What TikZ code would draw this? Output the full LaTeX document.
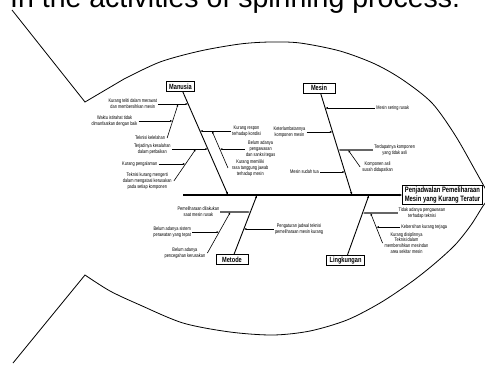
\documentclass[tikz,border=0pt]{standalone}
\usepackage{fontspec}
\setmainfont{Liberation Sans}
\newfontfamily\narrowsf[FakeStretch=0.75]{Liberation Sans}
\usepackage{tikz}
\usetikzlibrary{positioning,calc,arrows.meta}
\tikzstyle{line} = [draw,line width=0.8pt]
\tikzstyle{bone} = [draw,line width=0.9pt,-{Latex[length=3pt,width=2.4pt]}]
\tikzstyle{arrow} = [draw,line width=0.6pt,-{Latex[length=2.6pt,width=2pt]}]
\tikzstyle{subline} = [draw=black!60,line width=1.3pt,-{Latex[length=2.6pt,width=2pt]}]
\tikzstyle{category} = [draw,line width=0.8pt,fill=white,font=\narrowsf\bfseries\fontsize{7.5}{8}\selectfont,minimum height=10pt,inner xsep=3pt,inner ysep=1pt]
\tikzstyle{cause} = [align=center,font=\narrowsf\fontsize{5.2}{5.8}\selectfont,inner sep=1pt]

\begin{document}
\begin{tikzpicture}[x=1pt,y=-1pt,node distance=2pt]
            \useasboundingbox (0,0) rectangle (485,365);
            \clip (0,0) rectangle (485,365);
            \node[anchor=base west,inner sep=0pt,font=\fontsize{28.5}{30}\selectfont] (title) at (10,7) {In the activities of spinning process.};
            % fish outline
            \draw[line] (12,10) -- (85,102) -- plot[smooth] coordinates {(124,79) (160,62) (200,51) (240,44) (270,42) (300,43) (340,51) (375,64) (403,80) (432,103) (455,135) (475,170) (490,197)};
            \draw[line] (13,363) -- (85,275) -- plot[smooth] coordinates {(85,275) (110,291) (140,305) (183,323) (230,332) (273,335) (310,331) (347,320) (380,303) (410,283) (433,265) (455,245) (471,225) (483,206) (490,197)};
            % head and spine
            \node[category,font=\narrowsf\bfseries\fontsize{7.8}{9.5}\selectfont,align=center,minimum width=79pt,minimum height=18pt,inner xsep=2pt] (head) at (442.5,195) {Penjadwalan Pemeliharaan\\Mesin yang Kurang Teratur};
            \coordinate (tail) at (183,195);
            \path[bone,line width=1.2pt] (tail) -- (head);
            % categories
            \node[category] (manusia) at (180.5,86.5) {Manusia};
            \node[category,minimum width=32pt] (mesin) at (319,88) {Mesin};
            \node[category,minimum width=32pt] (metode) at (232,259.5) {Metode};
            \node[category] (lingkungan) at (345.5,260.5) {Lingkungan};
            \coordinate (s1) at (228,195);
            \coordinate (s2) at (352,195);
            \coordinate (s3) at (257,195);
            \coordinate (s4) at (369,195);
            \path[bone] (manusia) -- (s1);
            \path[bone] (mesin) -- (s2);
            \path[bone] (metode) -- (s3);
            \path[bone] (lingkungan) -- (s4);
            % Manusia
            \coordinate (m1) at ($(manusia)!0.161!(s1)$);
            \coordinate (m2) at ($(manusia)!0.410!(s1)$);
            \coordinate (m3) at ($(manusia)!0.576!(s1)$);
            \node[cause] (c1) [left = 30pt of m1] {Kurang teliti dalam merawat\\dan membersihkan mesin};
            \path[arrow] (c1) -- (m1);
            \coordinate (k1) at ($(m1)+(-10,0)$);
            \coordinate (d1) at ($(k1)+(-11,34)$);
            \node[cause] (t1) [left = 1pt of d1] {Teknisi kelelahan};
            \path[arrow] (d1) -- (k1);
            \coordinate (k2) at ($(d1)!0.5!(k1)$);
            \node[cause] (c2) [left = 34pt of k2] {Waktu istirahat tidak\\dimanfaatkan dengan baik};
            \path[arrow] (c2) -- (k2);
            \node[cause] (c3) [left = 36pt of m3] {Terjadinya kesalahan\\dalam perbaikan};
            \path[arrow] (c3) -- (m3);
            \coordinate (k3) at ($(m3)+(-12,0)$);
            \coordinate (d3) at ($(k3)+(-22,32)$);
            \node[cause] (t2) [left = 1pt of d3] {Teknisi kurang mengerti\\dalam mengatasi kerusakan\\pada setiap komponen};
            \path[arrow] (d3) -- (k3);
            \coordinate (k4) at ($(d3)!0.53!(k3)$);
            \node[cause] (c4) [left = 27pt of k4] {Kurang pengalaman};
            \path[arrow] (c4) -- (k4);
            \node[cause] (c5) [right = 31pt of m2] {Kurang respon\\terhadap kondisi};
            \path[arrow] (c5) -- (m2);
            \coordinate (k5) at ($(m2)+(12,0)$);
            \coordinate (d5) at ($(k5)+(16,37)$);
            \node[cause] (t3) [right = 3pt of d5] {Kurang memiliki\\rasa tanggung jawab\\terhadap mesin};
            \path[arrow] (d5) -- (k5);
            \coordinate (k6) at ($(d5)!0.51!(k5)$);
            \node[cause] (c6) [right = 25pt of k6] {Belum adanya\\pengawasan\\dan sanksi tegas};
            \path[arrow] (c6) -- (k6);
            % Mesin
            \coordinate (me1) at ($(mesin)!0.187!(s2)$);
            \coordinate (me2) at ($(mesin)!0.411!(s2)$);
            \coordinate (me3) at ($(mesin)!0.579!(s2)$);
            \coordinate (me4) at ($(mesin)!0.785!(s2)$);
            \node[cause] (c7) [right = 50pt of me1] {Mesin sering rusak};
            \path[arrow] (c7) -- (me1);
            \node[cause] (c8) [left = 26pt of me2] {Keterlambatannya\\komponen mesin};
            \path[arrow] (c8) -- (me2);
            \node[cause] (c9) [right = 35pt of me3] {Terdapatnya komponen\\yang tidak asli};
            \path[subline] (c9) -- (me3);
            \coordinate (k7) at ($(me3)+(10,0)$);
            \coordinate (d7) at ($(k7)+(12,17)$);
            \node[cause] (t4) [right = 1pt of d7] {Komponen asli\\susah didapatkan};
            \path[arrow] (d7) -- (k7);
            \node[cause] (c10) [left = 25pt of me4] {Mesin sudah tua};
            \path[arrow] (c10) -- (me4);
            % Metode
            \coordinate (mt1) at ($(metode)!0.736!(s3)$);
            \coordinate (mt2) at ($(metode)!0.473!(s3)$);
            \node[cause] (c11) [left = 30pt of mt1] {Pemeliharaan dilakukan\\saat mesin rusak};
            \path[subline] (c11) -- (mt1);
            \coordinate (k8) at ($(mt1)+(-20,0)$);
            \coordinate (d8) at ($(k8)+(-23,41)$);
            \node[cause] (t5) [left = 1pt of d8] {Belum adanya\\pencegahan kerusakan};
            \path[arrow] (d8) -- (k8);
            \coordinate (k9) at ($(d8)!0.51!(k8)$);
            \node[cause] (c12) [left = 27pt of k9] {Belum adanya sistem\\perawatan yang tepat};
            \path[arrow] (c12) -- (k9);
            \node[cause] (c13) [right = 30pt of mt2] {Pengaturan jadwal teknisi\\pemeliharaan mesin kurang};
            \path[arrow] (c13) -- (mt2);
            % Lingkungan
            \coordinate (li1) at ($(lingkungan)!0.725!(s4)$);
            \node[cause] (c14) [right = 35pt of li1] {Tidak adanya pengawasan\\terhadap teknisi};
            \path[subline] (c14) -- (li1);
            \coordinate (k10) at ($(li1)+(8,0)$);
            \coordinate (d10) at ($(k10)+(12,30)$);
            \node[cause] (t6) [right = 1pt of d10] {Kurang disiplinnya\\Teknisi dalam\\membersihkan mesindan\\area sekitar mesin};
            \path[arrow] (d10) -- (k10);
            \coordinate (k11) at ($(d10)!0.53!(k10)$);
            \node[cause] (c15) [right = 24pt of k11] {Kebersihan kurang terjaga};
            \path[arrow] (c15) -- (k11);
        \end{tikzpicture}
\end{document}
